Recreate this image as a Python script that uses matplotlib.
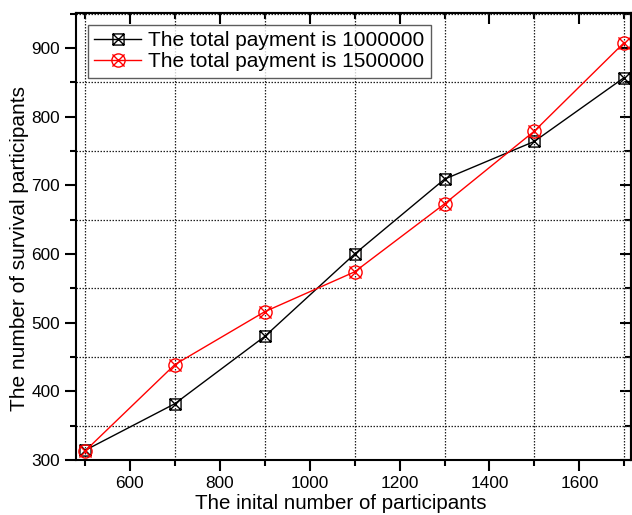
import numpy as np
import matplotlib.pyplot as plt
from matplotlib.path import Path
from matplotlib.ticker import MultipleLocator

plt.rcParams['font.family'] = ['Liberation Sans', 'DejaVu Sans']

participantes = [500, 700, 900, 1100, 1300, 1500, 1700]
sobreviventes_1000000 = [314, 382, 480, 600, 709, 764, 857]
sobreviventes_1500000 = [313, 439, 516, 574, 673, 779, 908]
rotulos = ['The total payment is 1000000', 'The total payment is 1500000']

# marcadores: quadrado com X e circulo com X
quad = [(-1, -1), (1, -1), (1, 1), (-1, 1), (-1, -1),
        (-1, -1), (1, 1), (-1, 1), (1, -1)]
cods = [Path.MOVETO, Path.LINETO, Path.LINETO, Path.LINETO, Path.CLOSEPOLY,
        Path.MOVETO, Path.LINETO, Path.MOVETO, Path.LINETO]
marca_quad = Path(quad, cods)

circ = Path.unit_circle()
d = 0.92
marca_circ = Path.make_compound_path(
    circ,
    Path([(-d, -d), (d, d)], [Path.MOVETO, Path.LINETO]),
    Path([(-d, d), (d, -d)], [Path.MOVETO, Path.LINETO]))

fig = plt.figure(figsize=(6.32, 5.15), dpi=100)
ax = fig.add_axes([76 / 632, 1 - 460 / 515, 555 / 632, 447 / 515])

ax.plot(participantes, sobreviventes_1000000, color='black', lw=1,
        marker=marca_quad, markersize=8, markerfacecolor='none',
        markeredgecolor='black', markeredgewidth=1, label=rotulos[0])
ax.plot(participantes, sobreviventes_1500000, color='red', lw=1,
        marker=marca_circ, markersize=9.5, markerfacecolor='none',
        markeredgecolor='red', markeredgewidth=1, label=rotulos[1])

ax.set_xlim(480, 1715)
ax.set_ylim(300, 951)
ax.xaxis.set_major_locator(MultipleLocator(200))
ax.xaxis.set_minor_locator(MultipleLocator(100))
ax.yaxis.set_major_locator(MultipleLocator(100))
ax.yaxis.set_minor_locator(MultipleLocator(50))

# grade pontilhada apenas nos ticks menores
ax.grid(which='minor', linestyle=(0, (1.2, 1.2)), color='#222222', lw=0.9)
ax.grid(which='major', visible=False)

ax.tick_params(which='both', direction='out', top=False, right=False,
               labelsize=12.4, width=1.5)
ax.tick_params(which='major', length=8)
ax.tick_params(which='minor', length=4)
for s in ax.spines.values():
    s.set_linewidth(1.5)

# ticks internos no topo e na direita
sec_x = ax.secondary_xaxis('top')
sec_x.xaxis.set_major_locator(MultipleLocator(200))
sec_x.xaxis.set_minor_locator(MultipleLocator(100))
sec_x.tick_params(which='both', direction='in', labeltop=False, width=1.5)
sec_x.tick_params(which='major', length=8)
sec_x.tick_params(which='minor', length=4)
sec_x.spines['top'].set_linewidth(1.5)
sec_y = ax.secondary_yaxis('right')
sec_y.yaxis.set_major_locator(MultipleLocator(100))
sec_y.yaxis.set_minor_locator(MultipleLocator(50))
sec_y.tick_params(which='both', direction='in', labelright=False, width=1.5)
sec_y.tick_params(which='major', length=8)
sec_y.tick_params(which='minor', length=4)
sec_y.spines['right'].set_linewidth(1.5)

ax.set_xlabel('The inital number of participants', fontsize=14.8)
ax.set_ylabel('The number of survival participants', fontsize=15)
ax.xaxis.set_label_coords(0.477, -0.076)
ax.yaxis.set_label_coords(-0.085, 0.474)

leg = ax.legend(loc='upper left', bbox_to_anchor=(0.0216, 0.973), fontsize=15,
                frameon=True, fancybox=False, edgecolor='#333333',
                handlelength=2.25, borderpad=0.3, labelspacing=0.1,
                handletextpad=0.35, borderaxespad=0)
leg.get_frame().set_linewidth(1)

fig.savefig('out.png', dpi=100)
